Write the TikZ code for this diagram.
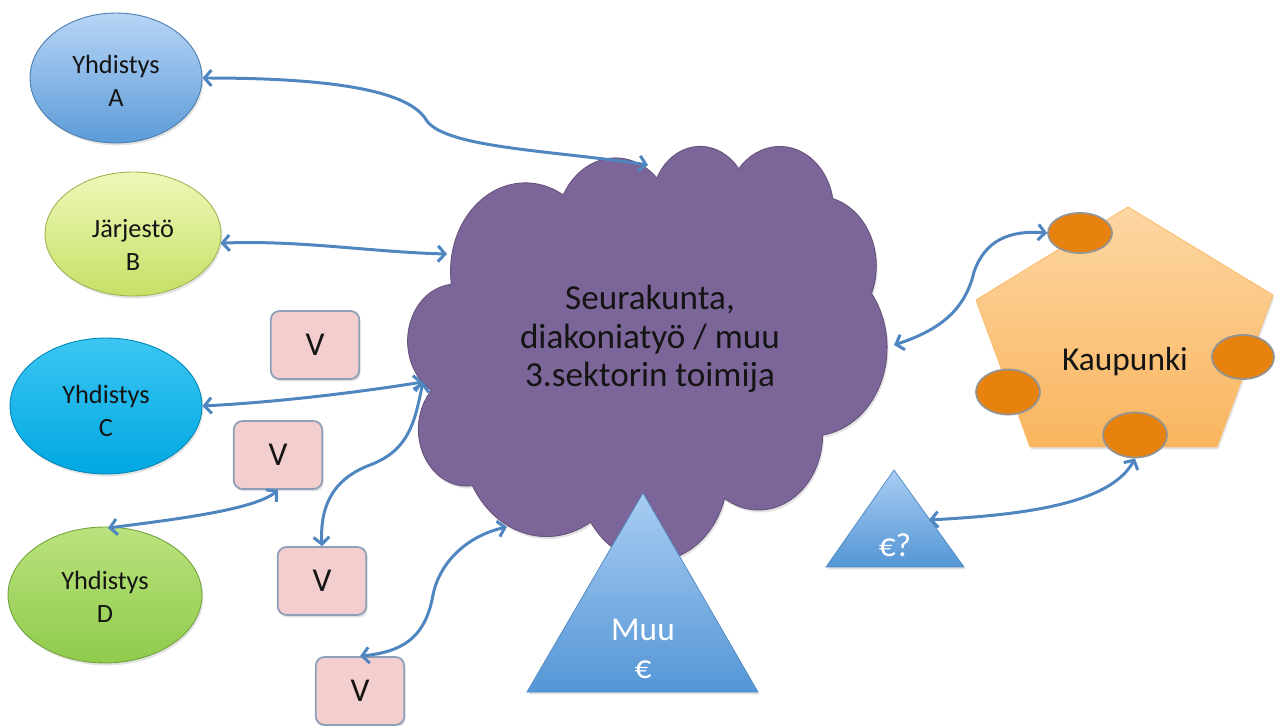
\documentclass[tikz,border=0pt]{standalone}
\usepackage{fontspec}
\setmainfont{Carlito}
\usetikzlibrary{shapes.geometric,arrows.meta,shadows}
\definecolor{arr}{HTML}{4F86C0}
\definecolor{txt}{HTML}{141414}
\definecolor{aTop}{HTML}{B7D5F6}
\definecolor{aBot}{HTML}{5C9BD8}
\definecolor{bTop}{HTML}{EEF8B8}
\definecolor{bBot}{HTML}{C5E066}
\definecolor{cTop}{HTML}{3CC6F2}
\definecolor{cBot}{HTML}{00A8E2}
\definecolor{dTop}{HTML}{BBE27E}
\definecolor{dBot}{HTML}{8FCB4C}
\definecolor{cloudc}{HTML}{7C6598}
\definecolor{vfill}{HTML}{F2CFCE}
\definecolor{vborder}{HTML}{8E9FB7}
\definecolor{pTop}{HTML}{FDD6A3}
\definecolor{pBot}{HTML}{F9B55E}
\definecolor{orng}{HTML}{E8820E}
\definecolor{tTop}{HTML}{A9CDF3}
\definecolor{tBot}{HTML}{5496D6}
\begin{document}
\begin{tikzpicture}[x=0.02cm,y=-0.02cm,
  shad/.style={drop shadow={opacity=0.22,shadow xshift=0.8pt,shadow yshift=-1.4pt}},
  ell/.style={ellipse, inner sep=0pt, shad, draw=#1, line width=0.5pt},
  etext/.style={align=center, inner sep=0pt, text=txt, font=\fontsize{15}{18.7}\selectfont},
  vbox/.style={rectangle, rounded corners=5pt, draw=vborder, fill=vfill, line width=1pt,
    minimum width=1.77cm, minimum height=1.36cm, shad, text=txt, font=\fontsize{19}{22}\selectfont},
  oell/.style={ellipse, inner sep=0pt, fill=orng, draw=gray!85, line width=1pt},
  conn/.style={draw=arr, line width=1.7pt,
    {Straight Barb[length=4pt,width=9pt]}-{Straight Barb[length=4pt,width=9pt]}},
  big/.style={text=txt, align=center, inner sep=0pt, font=\fontsize{20}{22}\selectfont},
  wtext/.style={text=white, align=center, inner sep=0pt, font=\fontsize{19}{21.5}\selectfont}
]
\useasboundingbox (0,0) rectangle (1276,726);

% cloud (PowerPoint-style outline)
\begin{scope}[shift={(408,145)}, x=0.0958cm, y=-0.083cm]
\path[fill=cloudc, draw=cloudc!82!black, line width=0.5pt, shad]
  (9.028,33.264)
  arc[start angle=-187.745, end angle=-59.635, x radius=15.632, y radius=21.273]
  arc[start angle=-152.02, end angle=-45.457, x radius=12.345, y radius=16.822]
  arc[start angle=-153.50, end angle=-37.33, x radius=10.104, y radius=13.762]
  arc[start angle=-139.70, end angle=-10.21, x radius=11.243, y radius=15.266]
  arc[start angle=-74.77, end angle=23.21, x radius=12.345, y radius=16.836]
  arc[start angle=-37.53, end angle=81.86, x radius=15.683, y radius=21.343]
  arc[start angle=0.46, end angle=121.98, x radius=13.391, y radius=18.211]
  arc[start angle=16.84, end angle=146.22, x radius=15.630, y radius=21.331]
  arc[start angle=58.98, end angle=150.20, x radius=17.870, y radius=24.405]
  arc[start angle=83.31, end angle=223.11, x radius=10.093, y radius=13.699]
  arc[start angle=120.35, end angle=264.11, x radius=10.058, y radius=13.762]
  -- cycle;
\end{scope}
\node[big] (clt) at (650,339) {Seurakunta,\\diakoniatyö / muu\\3.sektorin toimija};

% ellipses
\node[ell=aBot!80!black, top color=aTop, bottom color=aBot, minimum width=3.44cm, minimum height=2.6cm] (A) at (116,78) {};
\node[etext] (At) at (116,81) {Yhdistys\\A};
\node[ell=bBot!80!black, top color=bTop, bottom color=bBot, minimum width=3.52cm, minimum height=2.48cm] (B) at (133,234) {};
\node[etext] (Bt) at (133,245) {Järjestö\\B};
\node[ell=cBot!80!black, top color=cTop, bottom color=cBot, minimum width=3.84cm, minimum height=2.72cm] (C) at (106,406) {};
\node[etext] (Ct) at (106,411) {Yhdistys\\C};
\node[ell=dBot!80!black, top color=dTop, bottom color=dBot, minimum width=3.88cm, minimum height=2.72cm] (D) at (105,595) {};
\node[etext] (Dt) at (105,597) {Yhdistys\\D};

% V boxes
\node[vbox] (V1) at (315,345) {V};
\node[vbox] (V2) at (278,455) {V};
\node[vbox] (V3) at (322,581) {V};
\node[vbox] (V4) at (360,691) {V};

% Muu triangle
\shade[top color=tTop, bottom color=tBot, draw=tBot!90!black, line width=0.4pt, shad]
  (643,493) -- (758,692) -- (527,692) -- cycle;
\node[wtext] (muu) at (643,649) {Muu\\€};

% small triangle
\shade[top color=tTop, bottom color=tBot, draw=tBot!90!black, line width=0.4pt, shad]
  (894,470) -- (964,567) -- (826,567) -- cycle;
\node[wtext] (eq) at (895,545) {€?};

% pentagon
\shade[top color=pTop, bottom color=pBot, draw=pBot!90!white, line width=0.5pt, shad]
  (1128,207) -- (1273,295) -- (1217,447) -- (1030,447) -- (976,300) -- cycle;
\node[big, font=\fontsize{19}{22}\selectfont] (kau) at (1125,362) {Kaupunki};

% orange ellipses
\node[oell, minimum width=1.28cm, minimum height=0.8cm] (O1) at (1080,233) {};
\node[oell, minimum width=1.24cm, minimum height=0.88cm] (O2) at (1243,357) {};
\node[oell, minimum width=1.28cm, minimum height=0.9cm] (O3) at (1008,392) {};
\node[oell, minimum width=1.28cm, minimum height=0.9cm] (O4) at (1135,435) {};

% endpoints on shapes
\coordinate (pA) at (648,165);
\coordinate (pB) at (447,254);
\coordinate (pC) at (423,382);
\coordinate (pV) at (507,527);
\coordinate (pK) at (894,345);
\coordinate (pE) at (929,520);
\coordinate (dTopPt) at (108,528);

% connectors
\draw[conn] (A.east) .. controls (330,78) and (405,90) .. (425,118)
   .. controls (440,148) and (550,150) .. (pA);
\draw[conn] (B.-6) .. controls (300,240) and (370,252) .. (pB);
\draw[conn] (C.east) .. controls (280,402) and (360,392) .. (pC);
\draw[conn] (pC) .. controls (415,420) and (410,450) .. (370,465)
   .. controls (330,480) and (320,510) .. (V3.north);
\draw[conn] (V2.south) .. controls (255,510) and (170,520) .. (dTopPt);
\draw[conn] (pV) .. controls (470,535) and (440,560) .. (433,595)
   .. controls (425,640) and (400,652) .. (V4.north);
\draw[conn] (pK) .. controls (940,330) and (965,310) .. (974,272)
   .. controls (985,240) and (1010,230) .. (O1.west);
\draw[conn] (pE) .. controls (1020,515) and (1110,505) .. (O4.south);
\end{tikzpicture}
\end{document}
